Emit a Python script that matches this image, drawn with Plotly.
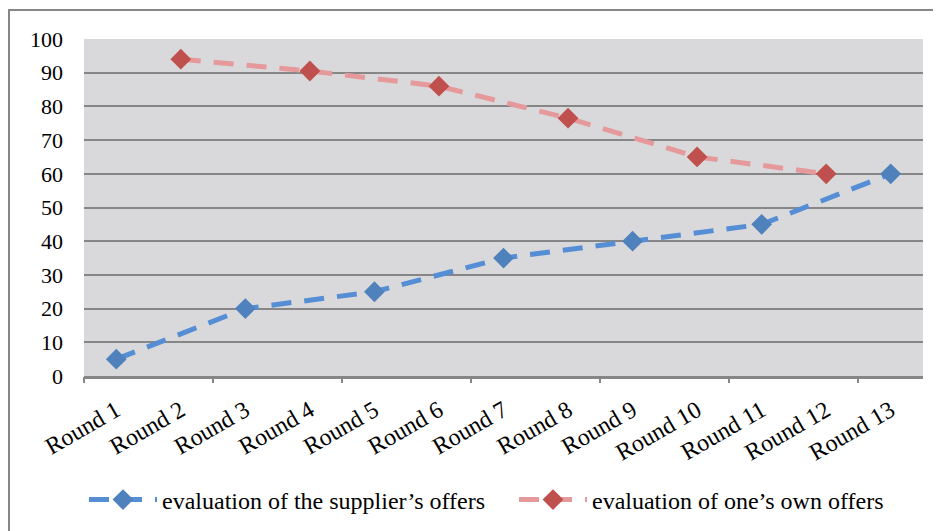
import plotly.graph_objects as go

rounds = ["Round 1", "Round 2", "Round 3", "Round 4", "Round 5", "Round 6", "Round 7",
          "Round 8", "Round 9", "Round 10", "Round 11", "Round 12", "Round 13"]
supplier_offers = [5, None, 20, None, 25, None, 35, None, 40, None, 45, None, 60]
own_offers = [None, 94, None, 90.5, None, 86, None, 76.5, None, 65, None, 60, None]
y_ticks = [0, 10, 20, 30, 40, 50, 60, 70, 80, 90, 100]

FONT = "Liberation Serif"

fig = go.Figure()
fig.add_trace(go.Scatter(
    x=rounds, y=supplier_offers, name="evaluation of the supplier\u2019s offers",
    mode="lines+markers", connectgaps=True, legend="legend",
    line=dict(color="#558ED5", width=5, dash="20px,13px"),
    marker=dict(symbol="diamond", size=16, color="#4F81BD"),
))
fig.add_trace(go.Scatter(
    x=rounds, y=own_offers, name="evaluation of one\u2019s own offers",
    mode="lines+markers", connectgaps=True, legend="legend2",
    line=dict(color="#E6999A", width=5, dash="20px,13px"),
    marker=dict(symbol="diamond", size=16, color="#C0504D"),
))
# invisible trace on overlay axis for boundary tick marks
fig.add_trace(go.Scatter(x=[0], y=[0], xaxis="x2", mode="markers",
                         marker=dict(opacity=0), showlegend=False, hoverinfo="skip"))

legend_common = dict(orientation="h", xanchor="left", y=-0.368, yanchor="middle",
                     font=dict(size=24, family=FONT), itemwidth=68,
                     bgcolor="rgba(0,0,0,0)")

fig.update_layout(
    width=933, height=523,
    margin=dict(l=76, r=18, t=31, b=155, autoexpand=False),
    paper_bgcolor="white",
    plot_bgcolor="#D9D9DB",
    font=dict(family=FONT, size=22, color="black"),
    xaxis=dict(type="category", range=[-0.5, 12.5], tickangle=-30, automargin=False,
               showgrid=False, ticks="", showline=True, linecolor="#868686",
               linewidth=3, tickfont=dict(size=24, family=FONT), zeroline=False,
               ticklabelstandoff=8),
    xaxis2=dict(overlaying="x", range=[-0.5, 12.5], type="linear", automargin=False,
                tickvals=[-0.5, 1.5, 3.5, 5.5, 7.5, 9.5, 11.5],
                ticks="outside", ticklen=6, tickwidth=2, tickcolor="#868686",
                showticklabels=False, showgrid=False, zeroline=False,
                showline=False, anchor="y", side="bottom"),
    yaxis=dict(range=[0, 100], tickvals=y_ticks, showgrid=True, automargin=False,
               gridcolor="#868686", gridwidth=2, zeroline=False, ticks="",
               showline=False, tickfont=dict(size=22, family=FONT), ticklabelstandoff=20),
    legend=dict(x=0.0, **legend_common),
    legend2=dict(x=0.5125, **legend_common),
    showlegend=True,
    shapes=[dict(type="rect", xref="paper", yref="paper",
                 x0=-0.0894, x1=1.05, y0=-0.5, y1=1.086,
                 line=dict(color="#868686", width=2), fillcolor="rgba(0,0,0,0)", layer="below")],
)

fig.write_html("out.html")
